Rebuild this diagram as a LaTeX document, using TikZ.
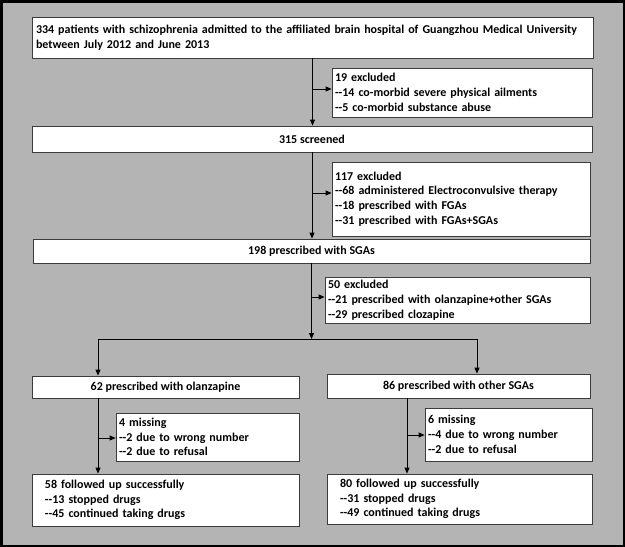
\documentclass[tikz,border=0pt]{standalone}
\usepackage{fontspec}
\setmainfont{Carlito}[Ligatures=TeXOff]
\usetikzlibrary{arrows.meta,calc}
\definecolor{bggray}{RGB}{180,180,180}
\definecolor{edgegray}{RGB}{60,60,60}
\begin{document}
\begin{tikzpicture}[x=1pt,y=-1pt,
  every node/.style={font=\fontsize{12}{14.8}\selectfont\bfseries},
  boxbase/.style={draw=edgegray, fill=white, line width=0.8pt, inner ysep=0pt, anchor=center},
  cbox/.style={boxbase, align=center, inner xsep=0pt},
  lbox/.style={boxbase, align=left},
  arr/.style={draw=black, line width=0.8pt, -{Triangle[length=6pt,width=5pt]}},
  ln/.style={draw=black, line width=0.8pt}]
\useasboundingbox (0,0) rectangle (625,547);
\fill[black] (0,0) rectangle (625,547);
\fill[bggray] (2.5,2.5) rectangle (622.5,544.5);

% boxes
\node[lbox, inner xsep=4pt, text width=553pt, minimum height=41pt] (b1) at (312.5,37.5)
  {334 patients with schizophrenia admitted to the affiliated brain hospital of Guangzhou Medical University\\between July 2012 and June 2013};
\node[lbox, inner xsep=3pt, text width=254pt, minimum height=49pt] (e1) at (462,92.5)
  {19 excluded\\--14 co-morbid severe physical ailments\\--5 co-morbid substance abuse};
\node[cbox, minimum width=560pt, minimum height=26pt] (b2) at (312,139) {315 screened};
\node[lbox, inner xsep=3pt, text width=252pt, minimum height=74pt] (e2) at (461,199)
  {117 excluded\\--68 administered Electroconvulsive therapy\\--18 prescribed with FGAs\\--31 prescribed with FGAs+SGAs};
\node[cbox, minimum width=557pt, minimum height=24pt] (b3) at (311.5,251) {198 prescribed with SGAs};
\node[lbox, inner xsep=3pt, text width=259pt, minimum height=46pt] (e3) at (457.5,300)
  {50 excluded\\--21 prescribed with olanzapine+other SGAs\\--29 prescribed clozapine};
\node[cbox, minimum width=267pt, minimum height=22pt] (b4) at (165.5,387) {62 prescribed with olanzapine};
\node[cbox, minimum width=263pt, minimum height=24pt] (b5) at (458.5,386) {86 prescribed with other SGAs};
\node[lbox, inner xsep=3pt, text width=177pt, minimum height=48pt] (e4) at (207.5,437)
  {4 missing\\--2 due to wrong number\\--2 due to refusal};
\node[lbox, inner xsep=3pt, text width=161pt, minimum height=53pt] (e5) at (508.5,434.5)
  {6 missing\\--4 due to wrong number\\--2 due to refusal};
\node[lbox, inner xsep=13pt, text width=241pt, minimum height=52pt] (b6) at (165.5,500)
  {58 followed up successfully\\--13 stopped drugs\\--45 continued taking drugs};
\node[lbox, inner xsep=13pt, text width=239pt, minimum height=50pt] (b7) at (459.5,499)
  {80 followed up successfully\\--31 stopped drugs\\--49 continued taking drugs};

% connectors
\draw[arr] (b1.south) -- (b1.south |- b2.north);
\draw[arr] (b1.south |- e1.west) ++(0,-3.5) coordinate (a1) -- (a1 -| e1.west);
\draw[arr] (b2.south) -- (b2.south |- b3.north);
\draw[arr] (b2.south |- e2.west) ++(0,-6) coordinate (a2) -- (a2 -| e2.west);
\coordinate (split) at (311.5,339);
\coordinate (sl) at (98,339);
\coordinate (sr) at (477,339);
\draw[arr] (b3.south) -- (split);
\draw[arr] (b3.south |- e3.west) ++(0,-3) coordinate (a3) -- (a3 -| e3.west);
\draw[ln] (sl) -- (sr);
\draw[arr] (sl) -- (sl |- b4.north);
\draw[arr] (sr) -- (sr |- b5.north);
\coordinate (lx) at (98,0);
\coordinate (rx) at (407,0);
\draw[arr] (lx |- b4.south) -- (lx |- b6.north);
\draw[arr] (lx |- e4.west) ++(0,1) coordinate (a4) -- (a4 -| e4.west);
\draw[arr] (rx |- b5.south) -- (rx |- b7.north);
\draw[arr] (rx |- e5.west) ++(0,0.5) coordinate (a5) -- (a5 -| e5.west);
\end{tikzpicture}
\end{document}
